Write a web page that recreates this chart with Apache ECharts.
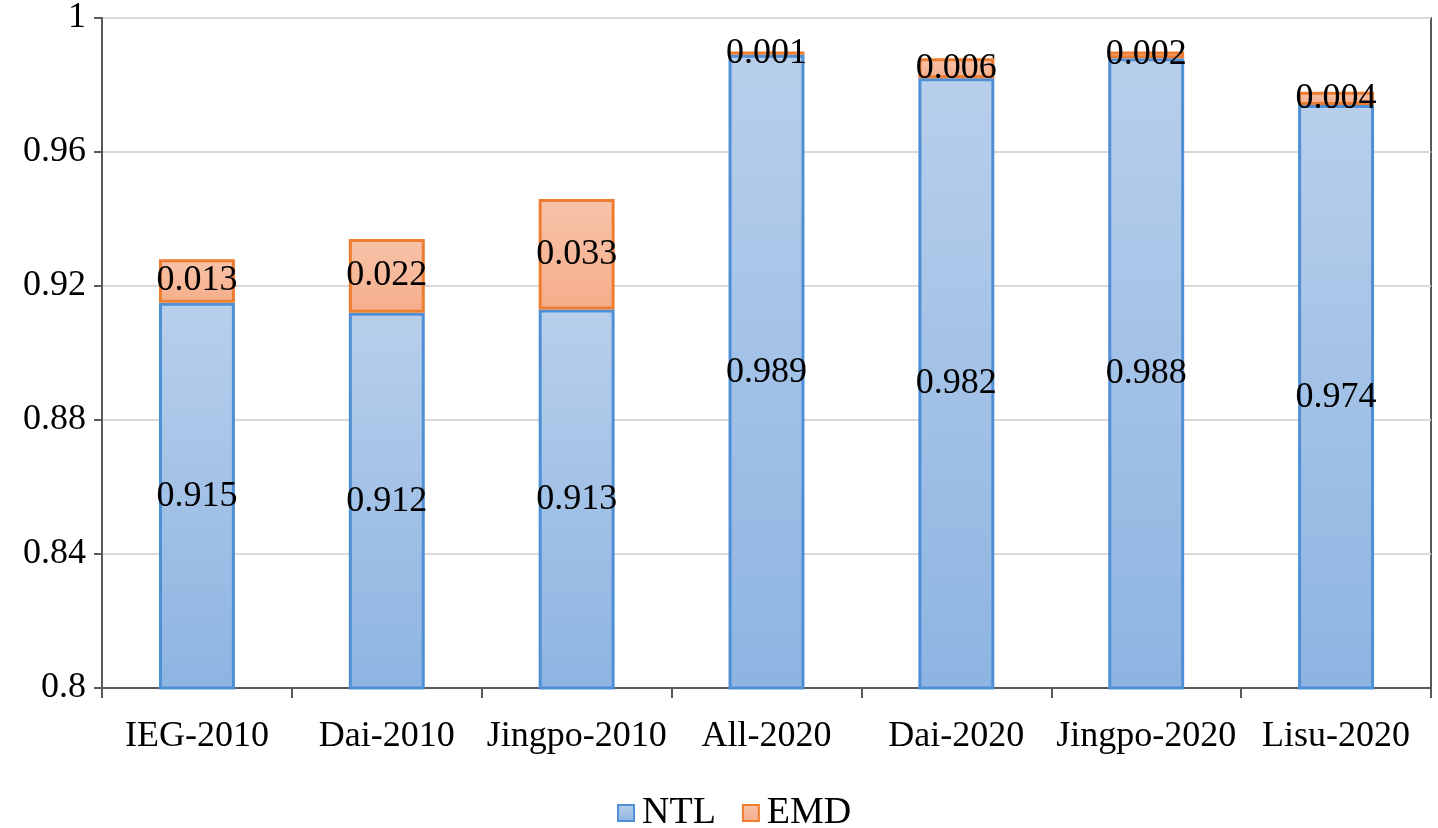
<!DOCTYPE html>
<html><head><meta charset="utf-8">
<script src="https://cdn.jsdelivr.net/npm/echarts@6/dist/echarts.min.js"></script>
<style>html,body{margin:0;padding:0;background:#fff}#c{width:1438px;height:828px}</style>
</head><body><div id="c"></div>
<script>
const categories = ['IEG-2010','Dai-2010','Jingpo-2010','All-2020','Dai-2020','Jingpo-2020','Lisu-2020'];
const ntl = [0.915,0.912,0.913,0.989,0.982,0.988,0.974];
const emd = [0.013,0.022,0.033,0.001,0.006,0.002,0.004];
const yTicks = [0.8,0.84,0.88,0.92,0.96,1];

const font = '"Liberation Serif","Times New Roman",serif';
const chart = echarts.init(document.getElementById('c'));
chart.setOption({
  animation:false,
  textStyle:{fontFamily:font},
  grid:{left:102,right:7,top:16,bottom:140,show:true,borderColor:'#595959',borderWidth:2,containLabel:false},
  legend:{top:789,left:612,icon:'rect',itemWidth:16,itemHeight:16,itemGap:26,
    textStyle:{fontFamily:font,fontSize:38,color:'#000',padding:[0,0,0,3]},data:['NTL','EMD']},
  xAxis:{type:'category',data:categories,
    axisLine:{lineStyle:{color:'#595959',width:2}},
    axisTick:{show:true,alignWithLabel:false,length:10,lineStyle:{color:'#595959',width:2}},
    axisLabel:{fontFamily:font,fontSize:36,color:'#000',margin:31,interval:0}},
  yAxis:{type:'value',min:0.8,max:1,interval:0.04,
    axisLine:{show:true,lineStyle:{color:'#595959',width:2}},
    axisTick:{show:true,length:8,lineStyle:{color:'#595959',width:2}},
    splitLine:{lineStyle:{color:'#d9d9d9',width:2}},
    axisLabel:{fontFamily:font,fontSize:36,color:'#000',margin:16,
      formatter:v=>{const r=Math.round(v*100)/100; return yTicks.includes(r)?String(r):'';}}},
  series:[
    {name:'NTL',type:'bar',stack:'s',data:ntl,barWidth:'40%',
      itemStyle:{borderColor:'#4f8fd6',borderWidth:3,
        color:new echarts.graphic.LinearGradient(0,0,0,1,[{offset:0,color:'#b8cfeb'},{offset:1,color:'#8db4e2'}])},
      label:{show:true,position:'inside',fontFamily:font,fontSize:36,color:'#000',formatter:p=>p.value.toFixed(3)}},
    {name:'EMD',type:'bar',stack:'s',data:emd,barWidth:'40%',
      itemStyle:{borderColor:'#ed7d31',borderWidth:3,
        color:new echarts.graphic.LinearGradient(0,0,0,1,[{offset:0,color:'#f8c3a9'},{offset:1,color:'#f5ad8a'}])},
      label:{show:true,position:'inside',fontFamily:font,fontSize:36,color:'#000',formatter:p=>p.value.toFixed(3)}}
  ]
});
</script></body></html>
